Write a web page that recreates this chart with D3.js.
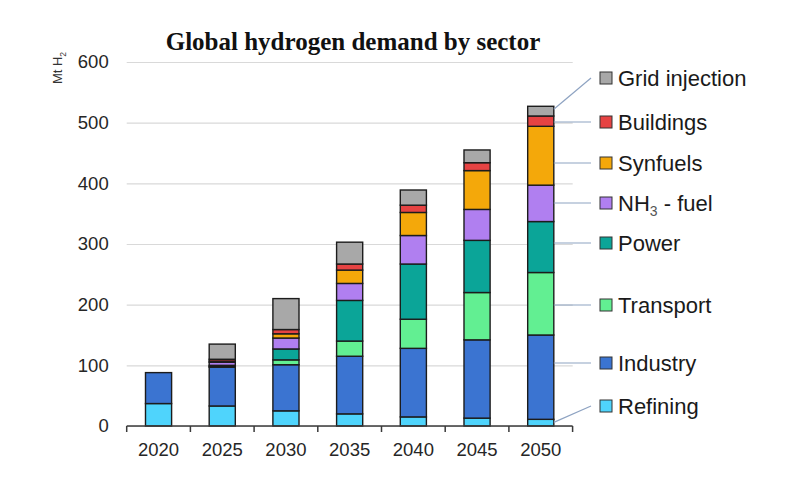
<!DOCTYPE html>
<html>
<head>
<meta charset="utf-8">
<script src="https://cdn.jsdelivr.net/npm/d3@7"></script>
<style>
  body { margin: 0; background: #fff; }
  svg { display: block; font-family: 'Liberation Sans', Arial, sans-serif; }
</style>
</head>
<body>
<svg id="chart" width="800" height="500"></svg>
<script>
'use strict';

// chart data (Mt H2)
var years = ['2020', '2025', '2030', '2035', '2040', '2045', '2050'];
var sectors = ['Refining', 'Industry', 'Transport', 'Power', 'NH3 - fuel', 'Synfuels', 'Buildings', 'Grid injection'];
var refining = [37, 33, 25, 20, 15, 13, 11];
var industry = [51, 64, 76, 95, 113, 129, 139];
var transport = [0, 1, 8, 25, 48, 78, 103];
var power = [0, 2, 18, 67, 91, 86, 84];
var nh3Fuel = [0, 5, 18, 28, 47, 51, 60];
var synfuels = [0, 2, 7, 22, 38, 64, 97];
var buildings = [0, 3, 7, 10, 12, 13, 17];
var gridInjection = [0, 25, 51, 36, 25, 21, 16];
var yTicks = [0, 100, 200, 300, 400, 500, 600];

var colors = ['#4fd4fc', '#3b74d1', '#62ef92', '#0ba598', '#b07ff0', '#f4a80a', '#e64343', '#a8a8a8'];
var legendY = [406, 363, 305, 243, 203, 163, 122, 78]; // label rows, bottom to top

(function () {
  var svg = d3.select('#chart'),
    series = [refining, industry, transport, power, nh3Fuel, synfuels, buildings, gridInjection];

  var rows = years.map(function (yr, i) {
    var r = { year: yr };
    sectors.forEach(function (s, k) { r[s] = series[k][i]; });
    return r;
  });
  var stacked = d3.stack().keys(sectors)(rows);

  var x = d3.scaleBand().domain(years).range([126.7, 572.6])
    .paddingInner(0.59).paddingOuter(0.295);
  var y = d3.scaleLinear().domain([0, 600]).range([426, 62]);

  // gridlines + y labels
  var yAxis = svg.append('g')
    .attr('transform', 'translate(126.7,0)')
    .call(d3.axisLeft(y).tickValues(yTicks).tickSize(-446).tickPadding(18));
  yAxis.select('.domain').remove();
  yAxis.selectAll('line').attr('stroke', '#d9d9d9').attr('stroke-width', 1.2);
  yAxis.selectAll('text')
    .attr('font-size', 18.5).attr('fill', '#262626')
    .attr('font-family', "'Liberation Sans', Arial, sans-serif");

  // y title
  var yt = svg.append('text')
    .attr('transform', 'translate(62,68) rotate(-90)')
    .attr('text-anchor', 'middle')
    .attr('font-size', 13).attr('fill', '#333');
  yt.append('tspan').text('Mt H');
  yt.append('tspan').attr('dy', 4).attr('font-size', 8.5).text('2');

  // bars
  svg.append('g').selectAll('g')
    .data(stacked)
    .join('g')
    .attr('fill', function (d, i) { return colors[i]; })
    .selectAll('rect')
    .data(function (d) { return d.filter(function (p) { return p[1] - p[0] > 0; }); })
    .join('rect')
    .attr('x', function (d) { return x(d.data.year); })
    .attr('width', x.bandwidth())
    .attr('y', function (d) { return y(d[1]); })
    .attr('height', function (d) { return y(d[0]) - y(d[1]); })
    .attr('stroke', '#1c1c1c')
    .attr('stroke-width', 1.4);

  // x axis
  var baseY = y(0),
    xAxis = svg.append('g');
  xAxis.append('line')
    .attr('x1', x.range()[0]).attr('x2', x.range()[1])
    .attr('y1', baseY).attr('y2', baseY)
    .attr('stroke', '#3a3a3a').attr('stroke-width', 1.5);
  xAxis.selectAll('.tk')
    .data(d3.range(years.length + 1))
    .join('line')
    .attr('class', 'tk')
    .attr('x1', function (i) { return x.range()[0] + i * x.step(); })
    .attr('x2', function (i) { return x.range()[0] + i * x.step(); })
    .attr('y1', baseY).attr('y2', baseY + 6)
    .attr('stroke', '#3a3a3a').attr('stroke-width', 1.5);
  xAxis.selectAll('text')
    .data(years)
    .join('text')
    .attr('x', function (d) { return x(d) + x.bandwidth() / 2; })
    .attr('y', 456)
    .attr('text-anchor', 'middle')
    .attr('font-size', 18.5).attr('fill', '#262626')
    .text(function (d) { return d; });

  // title
  svg.append('text')
    .attr('x', 353).attr('y', 50)
    .attr('text-anchor', 'middle')
    .attr('font-family', "'Liberation Serif', 'Times New Roman', serif")
    .attr('font-weight', 'bold').attr('font-size', 25)
    .attr('fill', '#111')
    .text('Global hydrogen demand by sector');

  // legend with leader lines to the last bar
  var last = years.length - 1,
    barRight = x(years[last]) + x.bandwidth();
  var lg = svg.append('g').selectAll('g')
    .data(stacked)
    .join('g');
  lg.append('line')
    .attr('x1', barRight)
    .attr('y1', function (d, i) {
      var top = y(d[last][1]), bot = y(d[last][0]);
      return Math.max(top + 3, Math.min(bot - 3, legendY[i]));
    })
    .attr('x2', 591)
    .attr('y2', function (d, i) { return legendY[i]; })
    .attr('stroke', '#8ea3c2').attr('stroke-width', 1.2);
  lg.append('rect')
    .attr('x', 600).attr('y', function (d, i) { return legendY[i] - 6; })
    .attr('width', 12).attr('height', 12)
    .attr('fill', function (d, i) { return colors[i]; })
    .attr('stroke', '#333').attr('stroke-width', 1);
  var lt = lg.append('text')
    .attr('x', 618).attr('y', function (d, i) { return legendY[i] + 8; })
    .attr('font-size', 22).attr('fill', '#1a1a1a');
  lt.filter(function (d) { return d.key !== 'NH3 - fuel'; })
    .text(function (d) { return d.key; });
  var nh = lt.filter(function (d) { return d.key === 'NH3 - fuel'; });
  nh.append('tspan').text('NH');
  nh.append('tspan').attr('dy', 5).attr('font-size', 14).attr('fill', '#555').text('3');
  nh.append('tspan').attr('dy', -5).text(' - fuel');
}());
</script>
</body>
</html>
